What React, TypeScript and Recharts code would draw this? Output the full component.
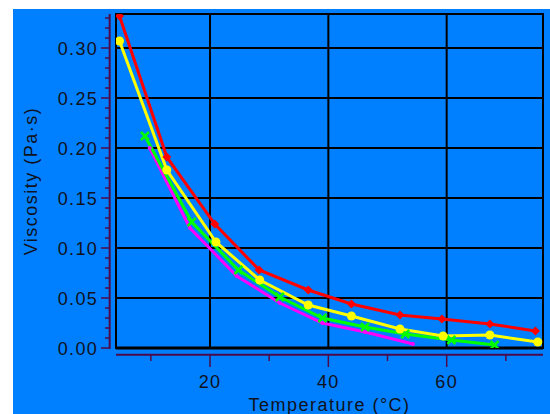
import { LineChart, Line, XAxis, YAxis, CartesianGrid, ReferenceLine, ReferenceArea, Label } from 'recharts';

// axis ticks
const xTicks = [10, 20, 30, 40, 50, 60, 70];
const xLabelled = [20, 40, 60];
const yTicks = [0, 0.01, 0.02, 0.03, 0.04, 0.05, 0.06, 0.07, 0.08, 0.09, 0.1, 0.11, 0.12, 0.13, 0.14, 0.15, 0.16,
    0.17, 0.18, 0.19, 0.2, 0.21, 0.22, 0.23, 0.24, 0.25, 0.26, 0.27, 0.28, 0.29, 0.3, 0.31, 0.32, 0.33];
const yLabelled = ['0.00', '0.05', '0.10', '0.15', '0.20', '0.25', '0.30'];
const xGrid = [20, 40, 60];
const yGrid = [0.05, 0.1, 0.15, 0.2, 0.25, 0.3];

// series
const redTemp = [4.7, 12.7, 20.8, 28.3, 36.6, 43.9, 52.1, 59.2, 67.3, 75.0];
const redVisc = [0.332, 0.191, 0.124, 0.078, 0.058, 0.044, 0.033, 0.029, 0.024, 0.017];
const yellowTemp = [4.7, 12.7, 21.0, 28.4, 36.6, 43.9, 52.1, 59.4, 67.3, 75.4];
const yellowVisc = [0.307, 0.178, 0.106, 0.068, 0.043, 0.032, 0.019, 0.012, 0.013, 0.006];
const greenTemp = [9.0, 16.9, 24.8, 31.8, 39.0, 46.2, 53.0, 60.8, 68.1];
const greenVisc = [0.212, 0.126, 0.078, 0.051, 0.030, 0.021, 0.014, 0.008, 0.003];
const magentaTemp = [9.8, 16.6, 24.5, 31.8, 39.0, 46.2, 54.3];
const magentaVisc = [0.2, 0.12, 0.072, 0.045, 0.025, 0.016, 0.004];

const X_MIN = 4.11;
const X_MAX = 76.28;
const Y_MAX = 0.334;

const BG = '#0080ff';
const AXIS = '#4d0a4a';
const TEXT = '#10121c';
const FONT = "Arial, 'Liberation Sans', sans-serif";
const RED = '#ff0000';
const YELLOW = '#ffff00';
const GREEN = '#00ff00';
const MAGENTA = '#ff00ff';

const toPoints = (xs: number[], ys: number[]) => xs.map((t, i) => ({ t, v: ys[i] }));

const redData = toPoints(redTemp, redVisc);
const yellowData = toPoints(yellowTemp, yellowVisc);
const greenData = toPoints(greenTemp, greenVisc);
const magentaData = toPoints(magentaTemp, magentaVisc);

const YTick = ({ x, y, payload }: any) => {
    const major = Math.round(payload.value * 100) % 5 === 0;
    const ax = x - 6;
    const label = yLabelled[Math.round(payload.value * 20)];
    return (
        <g>
            <line x1={ax - (major ? 9 : 5)} x2={ax} y1={y} y2={y} stroke={AXIS} strokeWidth={1.5} />
            {major && (
                <text x={x - 18} y={y + 6.5} textAnchor="end" fontSize={18} letterSpacing={1.3} fill={TEXT} fontFamily={FONT}>
                    {label}
                </text>
            )}
        </g>
    );
};

const XTick = ({ x, y, payload }: any) => {
    const major = xLabelled.includes(payload.value);
    const ay = y + 7;
    return (
        <g>
            <line x1={x} x2={x} y1={ay} y2={ay + (major ? 12 : 6)} stroke={AXIS} strokeWidth={1.5} />
            {major && (
                <text x={x} y={y + 40} textAnchor="middle" fontSize={18} letterSpacing={1.3} fill={TEXT} fontFamily={FONT}>
                    {payload.value}
                </text>
            )}
        </g>
    );
};

const Diamond = ({ cx, cy }: any) => {
    if (cx == null || cy == null) return null;
    return <path d={`M${cx},${cy - 4.5}L${cx + 4.5},${cy}L${cx},${cy + 4.5}L${cx - 4.5},${cy}Z`} fill={RED} />;
};

const Cross = ({ cx, cy }: any) => {
    if (cx == null || cy == null) return null;
    return (
        <path d={`M${cx - 4},${cy - 4}L${cx + 4},${cy + 4}M${cx - 4},${cy + 4}L${cx + 4},${cy - 4}`} stroke={GREEN} strokeWidth={2.5} fill="none" />
    );
};

export default function App() {
    return (
        <div style={{ position: 'absolute', left: 13, top: 9, width: 537, height: 405, background: BG }}>
            <LineChart width={537} height={405} margin={{ top: 5, right: 7, left: 0, bottom: 0 }}>
                <XAxis
                    dataKey="t"
                    type="number"
                    domain={[X_MIN, X_MAX]}
                    ticks={xTicks}
                    interval={0}
                    allowDataOverflow
                    height={66}
                    axisLine={false}
                    tickLine={false}
                    tickSize={0}
                    tickMargin={0}
                    tick={<XTick />}
                >
                    <Label
                        content={({ viewBox }: any) => (
                            <text
                                x={viewBox.x + viewBox.width / 2}
                                y={viewBox.y + 63}
                                textAnchor="middle"
                                fontSize={18}
                                letterSpacing={1.5}
                                fill={TEXT}
                                fontFamily={FONT}
                            >
                                Temperature (°C)
                            </text>
                        )}
                    />
                </XAxis>
                <YAxis
                    dataKey="v"
                    type="number"
                    domain={[0, Y_MAX]}
                    ticks={yTicks}
                    interval={0}
                    allowDataOverflow
                    width={103}
                    axisLine={false}
                    tickLine={false}
                    tickSize={0}
                    tickMargin={0}
                    tick={<YTick />}
                >
                    <Label
                        content={({ viewBox }: any) => {
                            const cx = viewBox.x + 24;
                            const cy = viewBox.y + viewBox.height / 2;
                            return (
                                <text
                                    x={cx}
                                    y={cy}
                                    transform={`rotate(-90, ${cx}, ${cy})`}
                                    textAnchor="middle"
                                    fontSize={18}
                                    letterSpacing={1.5}
                                    fill={TEXT}
                                    fontFamily={FONT}
                                >
                                    Viscosity (Pa·s)
                                </text>
                            );
                        }}
                    />
                </YAxis>
                <CartesianGrid horizontalValues={yGrid} verticalValues={xGrid} stroke="#000" strokeWidth={2} />
                <ReferenceArea x1={X_MIN} x2={X_MAX} y1={0} y2={Y_MAX} fill="none" stroke="#000" strokeWidth={2} />
                <ReferenceLine y={0} stroke="#000" strokeWidth={3} />
                {/* axis lines sit a few pixels off the plot frame */}
                <ReferenceLine
                    segment={[{ x: 3.04, y: -0.001 }, { x: 3.04, y: Y_MAX }]}
                    ifOverflow="visible"
                    stroke={AXIS}
                    strokeWidth={2}
                />
                <ReferenceLine
                    segment={[{ x: X_MIN, y: -0.0067 }, { x: X_MAX, y: -0.0067 }]}
                    ifOverflow="visible"
                    stroke={AXIS}
                    strokeWidth={2}
                />
                <Line data={magentaData} dataKey="v" stroke={MAGENTA} strokeWidth={3} dot={{ r: 2, fill: MAGENTA, stroke: 'none' }} isAnimationActive={false} />
                <Line data={greenData} dataKey="v" stroke={GREEN} strokeWidth={3} dot={<Cross />} isAnimationActive={false} />
                <Line data={yellowData} dataKey="v" stroke={YELLOW} strokeWidth={3} dot={{ r: 4.5, fill: YELLOW, stroke: 'none' }} isAnimationActive={false} />
                <Line data={redData} dataKey="v" stroke={RED} strokeWidth={3} dot={<Diamond />} isAnimationActive={false} />
            </LineChart>
        </div>
    );
}
